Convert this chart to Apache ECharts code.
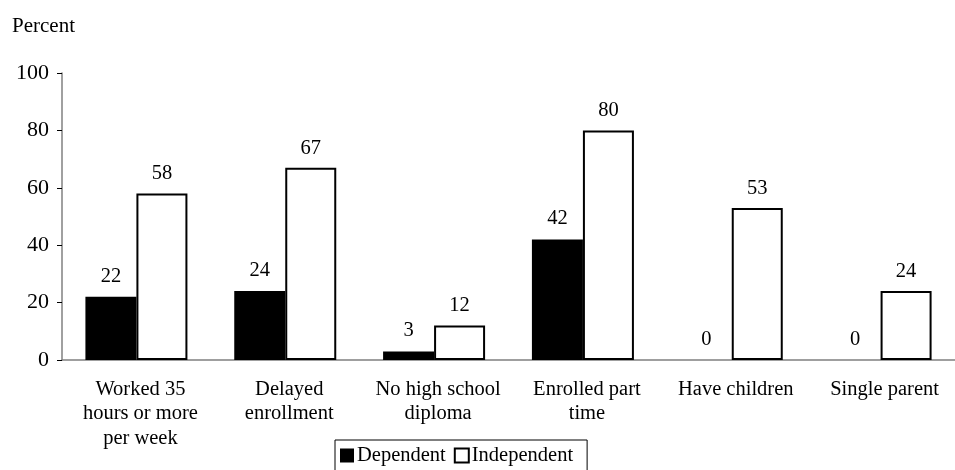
<!DOCTYPE html>
<html>
<head>
<meta charset="utf-8">
<script src="https://cdn.jsdelivr.net/npm/echarts@6/dist/echarts.min.js"></script>
<style>
html,body{margin:0;padding:0;background:#fff;}
#chart{width:955px;height:470px;}
</style>
</head>
<body>
<div id="chart"></div>
<script>
const categories = ["Worked 35\nhours or more\nper week", "Delayed\nenrollment", "No high school\ndiploma", "Enrolled part\ntime", "Have children", "Single parent"];
const dependent = [22, 24, 3, 42, 0, 0];
const independent = [58, 67, 12, 80, 53, 24];
const yTicks = [0, 20, 40, 60, 80, 100];

const FONT = '"Liberation Serif", "Times New Roman", serif';
const FS = 20.5;
const chart = echarts.init(document.getElementById('chart'), null, {renderer: 'canvas'});
chart.setOption({
  animation: false,
  backgroundColor: '#fff',
  textStyle: {fontFamily: FONT, color: '#000'},
  title: {
    text: 'Percent', left: 7, top: 11,
    textStyle: {fontFamily: FONT, fontSize: 21, fontWeight: 'normal', color: '#000'}
  },
  legend: {
    data: ['Dependent', 'Independent'],
    left: 335, top: 440,
    borderColor: '#000', borderWidth: 1,
    padding: [5, 14, 12, 5],
    itemWidth: 14, itemHeight: 14, itemGap: 8,
    icon: 'rect',
    textStyle: {fontFamily: FONT, fontSize: FS, color: '#000', padding: [0, 0, 0, -2]}
  },
  grid: {left: 62, top: 73, width: 905, height: 287, containLabel: false},
  xAxis: {
    type: 'category',
    data: categories,
    axisLine: {lineStyle: {color: '#808080', width: 1.5}},
    axisTick: {show: false},
    axisLabel: {fontFamily: FONT, fontSize: FS, color: '#000', lineHeight: 24.5, margin: 17, interval: 0,
      padding: [0, 0, 0, 8]}
  },
  yAxis: {
    type: 'value', min: 0, max: 100, interval: 20,
    axisLine: {show: true, lineStyle: {color: '#808080', width: 1.5}},
    axisTick: {show: true, length: 5, lineStyle: {color: '#000', width: 1}},
    splitLine: {show: false},
    axisLabel: {fontFamily: FONT, fontSize: 22, color: '#000', margin: 13,
      formatter: v => yTicks.includes(v) ? String(v) : ''}
  },
  series: [
    {
      name: 'Dependent', type: 'bar', data: dependent,
      barWidth: 51, barGap: '0%',
      itemStyle: {color: '#000', borderWidth: 0},
      label: {show: true, position: 'top', distance: 10, fontFamily: FONT, fontSize: FS, color: '#000'}
    },
    {
      name: 'Independent', type: 'bar', data: independent,
      barWidth: 51, barGap: '0%',
      itemStyle: {color: '#fff', borderColor: '#000', borderWidth: 2},
      label: {show: true, position: 'top', distance: 9, fontFamily: FONT, fontSize: FS, color: '#000'}
    }
  ]
});
</script>
</body>
</html>
